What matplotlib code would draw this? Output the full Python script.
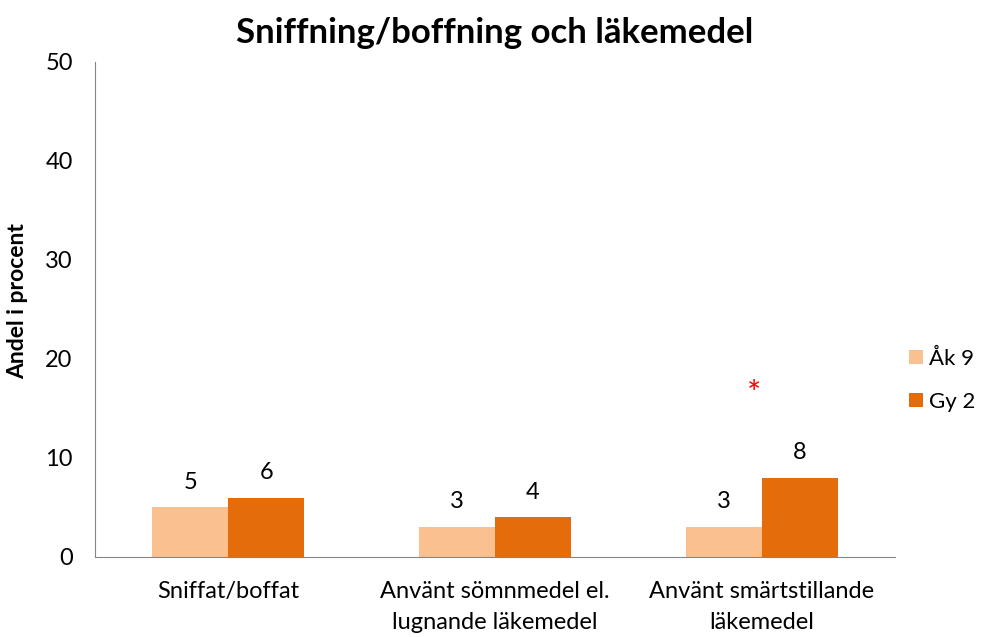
import matplotlib
matplotlib.use("Agg")
import matplotlib.pyplot as plt
import numpy as np

plt.rcParams["font.family"] = ["Lato", "DejaVu Sans"]

categories = ["Sniffat/boffat", "Använt sömnmedel el.\nlugnande läkemedel", "Använt smärtstillande\nläkemedel"]
series = ["Åk 9", "Gy 2"]
ak9 = [5, 3, 3]
gy2 = [6, 4, 8]
colors = ["#FAC090", "#E46C0A"]

# significant difference marker (position)
star_cat = 2
star_y = 16.4

fig = plt.figure(figsize=(9.82, 6.37), dpi=100)
ax = fig.add_axes([0.0967, 0.1256, 0.8147, 0.7771])

x = np.arange(len(categories))
WIDTH = 0.285

for i, (vals, name) in enumerate(zip([ak9, gy2], series)):
    pos = x + (i - 0.5) * WIDTH
    bars = ax.bar(pos, vals, WIDTH, color=colors[i], label=name)
    for p, v in zip(pos, vals):
        ax.text(p, v + 1.5, str(v), ha="center", va="bottom", fontsize=17)

ax.text(x[star_cat] - 0.03, star_y, "*", color="red", ha="center", va="center", fontsize=24)

ax.set_xlim(-0.5, 2.5)
ax.set_ylim(0, 50)
ax.set_yticks(range(0, 51, 10))
ax.set_xticks(x, categories, linespacing=1.6)
ax.tick_params(axis="both", length=0, labelsize=17)
ax.tick_params(axis="x", pad=17)
ax.tick_params(axis="y", pad=16)
for s in ["top", "right"]:
    ax.spines[s].set_visible(False)
for s in ["left", "bottom"]:
    ax.spines[s].set_color("#868686")
fig.text(18 / 982, 0.527, "Andel i procent", rotation=90, ha="center", va="center",
         fontsize=16.5, fontweight="bold")
ax.set_title("Sniffning/boffning och läkemedel", fontsize=25, fontweight="bold", pad=14)

ax.legend(loc="center left", bbox_to_anchor=(1.0, 0.357), frameon=False, fontsize=16,
          handlelength=0.6, handleheight=0.6, handletextpad=0.3, labelspacing=1.05,
          borderaxespad=0.25)

fig.savefig("out.png", dpi=100)
